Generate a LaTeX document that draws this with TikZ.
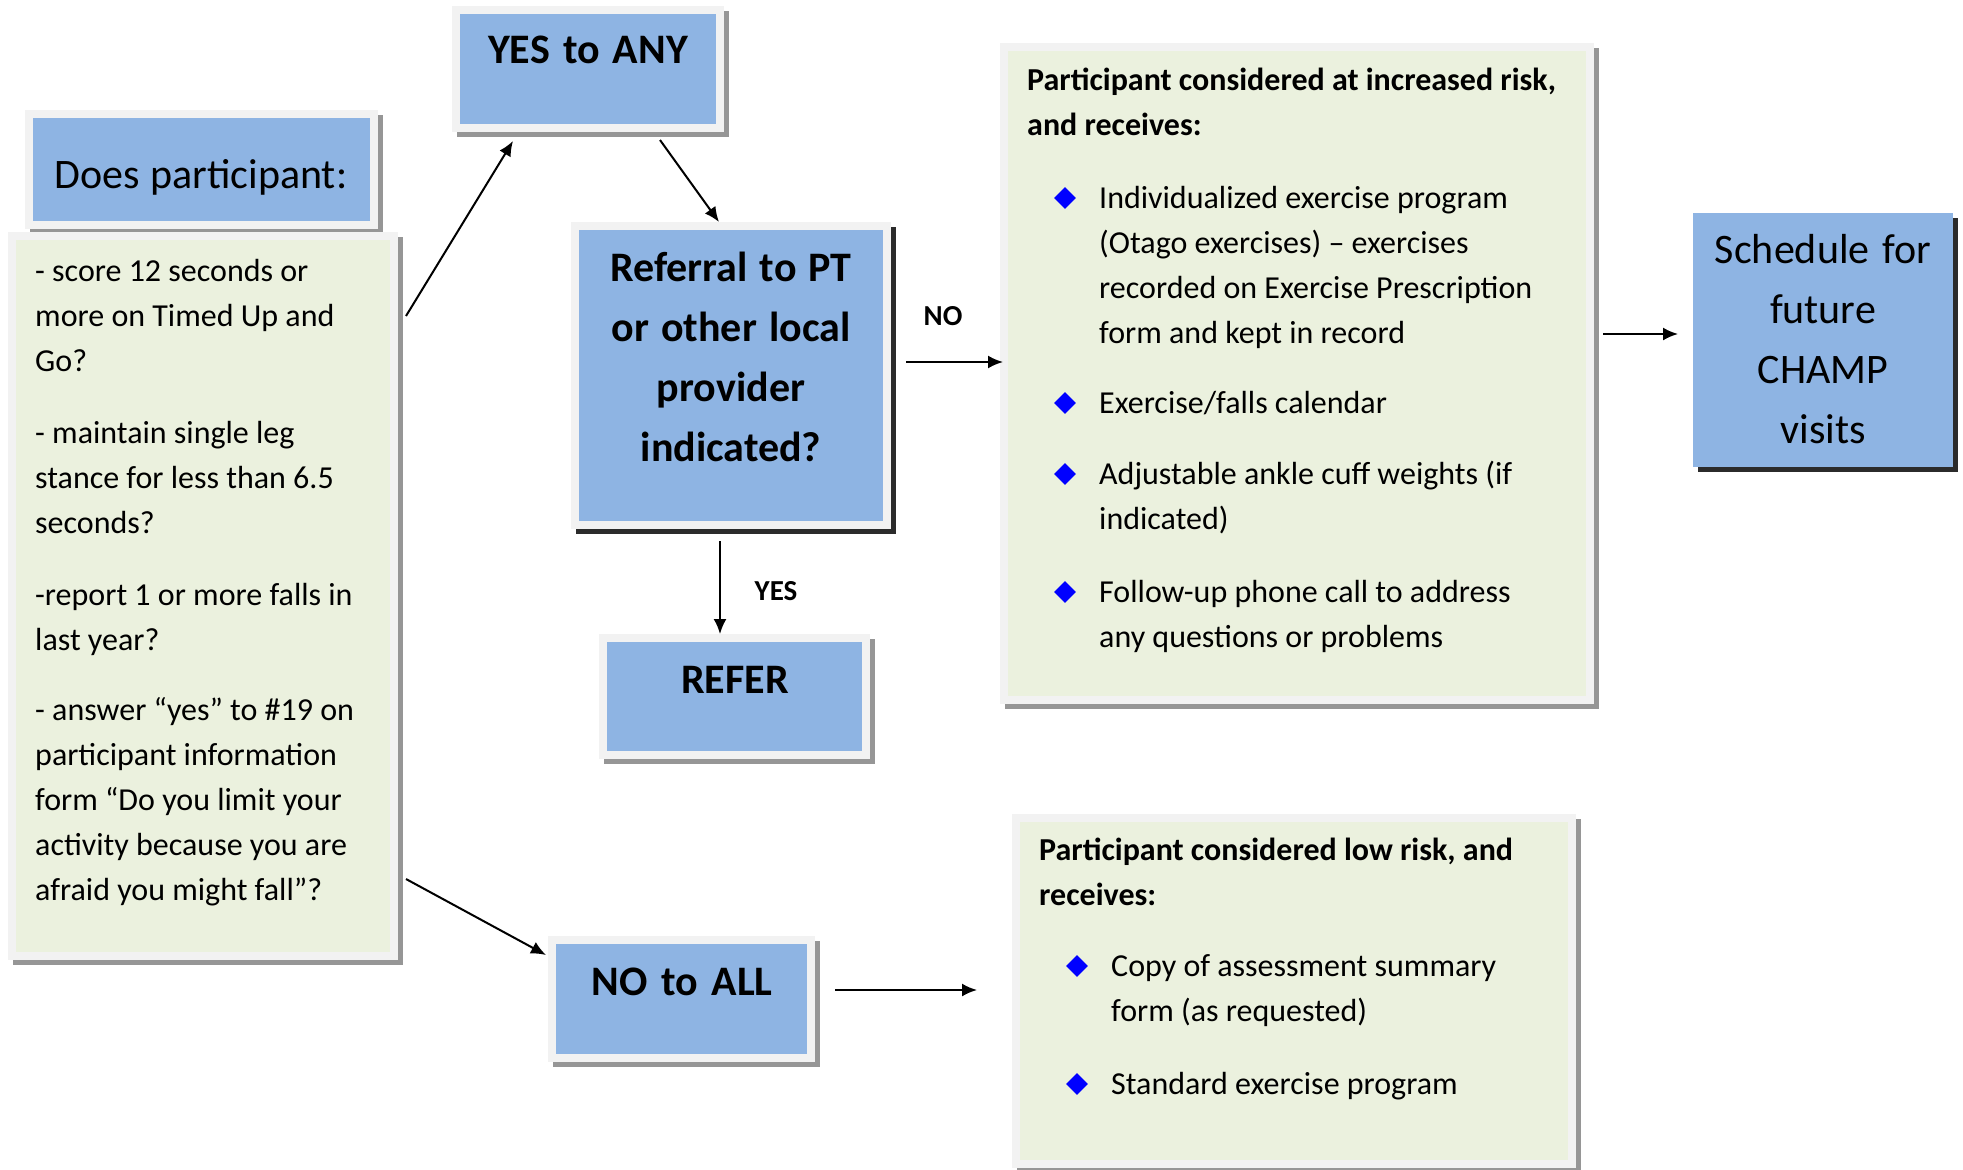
\documentclass[tikz,border=0pt]{standalone}
\usepackage{fontspec}
\setmainfont{Carlito}
\usetikzlibrary{shapes,arrows.meta}

\definecolor{boxblue}{HTML}{8EB4E3}
\definecolor{boxgreen}{HTML}{EBF1DE}
\definecolor{boxedge}{HTML}{F2F2F2}
\definecolor{shadowlight}{HTML}{969696}
\definecolor{shadowdark}{HTML}{2B2B2B}
\definecolor{bulletblue}{HTML}{0000FF}

\tikzset{
  box/.style={draw=boxedge, line width=8pt, inner sep=0pt},
  bluebox/.style={box, fill=boxblue},
  greenbox/.style={box, fill=boxgreen},
  schedbox/.style={box, draw=boxblue, fill=boxblue},
  flow/.style={-{Latex[length=15pt,width=13pt]}, line width=2pt},
  % keep the font's own word spacing inside aligned nodes
  plainspace/.style={execute at begin node={\spaceskip=0pt\xspaceskip=0pt}},
  bodytext/.style={font=\fontsize{32}{45}\selectfont, inner sep=0pt, align=left, plainspace},
  headtext/.style={font=\fontsize{42}{60}\selectfont, inner sep=0pt, align=center, text width=330pt, plainspace},
  answer/.style={font=\fontsize{29}{35}\selectfont\bfseries, inner sep=0pt},
  bullet/.style={diamond, fill=bulletblue, minimum size=22pt, inner sep=0pt}
}

% box with its drop shadow: name, style, shadow colour, x1, y1, x2, y2 (outer edge)
\newcommand{\flowbox}[7] {\fill[#3] (#4+5,#5+5) rectangle (#6+5,#7+5);
  \node (#1) [#2, minimum width={(#6-#4-8)*1pt}, minimum height={(#7-#5-8)*1pt}] at ({(#4+#6)/2},{(#5+#7)/2}) {};}
% diamond bullet and its text: x, baseline y, name, text width, text
\newcommand{\riskitem}[5] {\node (#3) [bullet] at (#1,#2-10) {};
  \node (#3Text) [bodytext, anchor=base west, text width=#4] at (#1+34,#2) {#5};}

\begin{document}
\begin{tikzpicture}[x=1pt, y=-1pt]
\useasboundingbox (0,0) rectangle (1963,1170);

\flowbox{ask}{bluebox}{shadowlight}{25}{110}{378}{229};
\flowbox{crit}{greenbox}{shadowlight}{8}{232}{398}{960};
\flowbox{yesany}{bluebox}{shadowlight}{452}{6}{724}{132};
\flowbox{refq}{bluebox}{shadowdark}{571}{222}{891}{529};
\flowbox{refer}{bluebox}{shadowlight}{599}{634}{870}{759};
\flowbox{noall}{bluebox}{shadowlight}{548}{936}{815}{1062};
\flowbox{high}{greenbox}{shadowlight}{1000}{43}{1594}{704};
\flowbox{sched}{schedbox}{shadowdark}{1693}{213}{1953}{467};
\flowbox{low}{greenbox}{shadowlight}{1012}{814}{1576}{1168};

\node (askText) [headtext, anchor=base] at (201,188) {Does participant:};
\node (critText) [bodytext, anchor=base west, text width=360pt] at (35,281)
  {- score 12 seconds or\\ more on Timed Up and\\ Go?\\[27pt]
   - maintain single leg\\ stance for less than 6.5\\ seconds?\\[27pt]
   -report 1 or more falls in\\ last year?\\[25pt]
   - answer “yes” to \#19 on\\ participant information\\ form “Do you limit your\\
   activity because you are\\ afraid you might fall”?};

\node (yesanyText) [headtext, font=\fontsize{42}{60}\selectfont\bfseries, anchor=base] at (588,63) {YES to ANY};
\node (refqText) [headtext, font=\fontsize{42}{60}\selectfont\bfseries, anchor=base] at (731,281)
  {Referral to PT\\ or other local\\ provider\\ indicated?};
\node (referText) [headtext, font=\fontsize{42}{60}\selectfont\bfseries, anchor=base] at (735,693) {REFER};
\node (noallText) [headtext, font=\fontsize{42}{60}\selectfont\bfseries, anchor=base] at (682,995) {NO to ALL};
\node (schedText) [headtext, anchor=base] at (1823,263) {Schedule for\\ future\\ CHAMP\\ visits};

\node (highText) [bodytext, font=\fontsize{32}{45}\selectfont\bfseries, anchor=base west, text width=560pt] at (1027,90)
  {Participant considered at increased risk,\\ and receives:};
\riskitem{1065}{208}{highA}{480pt}{Individualized exercise program\\ (Otago exercises) – exercises\\ recorded on Exercise Prescription\\ form and kept in record};
\riskitem{1065}{413}{highB}{480pt}{Exercise/falls calendar};
\riskitem{1065}{484}{highC}{480pt}{Adjustable ankle cuff weights (if\\ indicated)};
\riskitem{1065}{602}{highD}{480pt}{Follow-up phone call to address\\ any questions or problems};

\node (lowText) [bodytext, font=\fontsize{32}{45}\selectfont\bfseries, anchor=base west, text width=520pt] at (1039,860)
  {Participant considered low risk, and\\ receives:};
\riskitem{1077}{976}{lowA}{440pt}{Copy of assessment summary\\ form (as requested)};
\riskitem{1077}{1094}{lowB}{440pt}{Standard exercise program};

\draw[flow] ([shift={(8,84)}]crit.north east) -- ([shift={(61,9)}]yesany.south west);
\draw[flow] ([shift={(72,8)}]yesany.south) -- ([shift={(-12,0)}]refq.north);
\draw[flow] ([shift={(15,-13.5)}]refq.east) -- ([shift={(3,-11.5)}]high.west);
\draw[flow] ([shift={(-11,12)}]refq.south) -- ([shift={(-14.5,0)}]refer.north);
\draw[flow] ([shift={(9,-39.5)}]high.east) -- ([shift={(-15,-6)}]sched.west);
\draw[flow] ([shift={(8,-81)}]crit.south east) -- ([shift={(-2,19)}]noall.north west);
\draw[flow] ([shift={(20,-9)}]noall.east) -- ([shift={(-35,-1)}]low.west);

\node (noLabel) [answer, anchor=base] at (943,325) {NO};
\node (yesLabel) [answer, anchor=base] at (776,600) {YES};
\end{tikzpicture}
\end{document}
